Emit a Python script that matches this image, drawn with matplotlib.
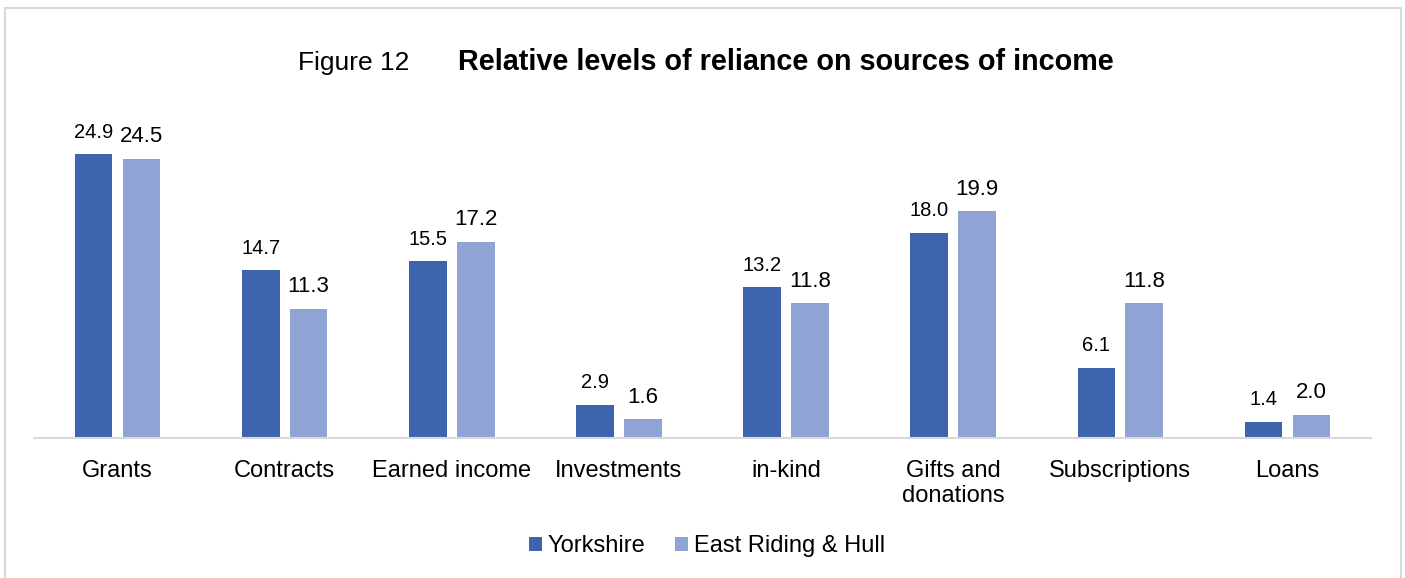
import numpy as np
import matplotlib.pyplot as plt
from matplotlib.patches import Rectangle

# dados
categorias = ['Grants', 'Contracts', 'Earned income', 'Investments', 'in-kind',
              'Gifts and\ndonations', 'Subscriptions', 'Loans']
yorkshire = [24.9, 14.7, 15.5, 2.9, 13.2, 18.0, 6.1, 1.4]
east_riding = [24.5, 11.3, 17.2, 1.6, 11.8, 19.9, 11.8, 2.0]
series = ['Yorkshire', 'East Riding & Hull']

cor_escura = '#3D64AD'
cor_clara = '#8FA4D5'
cinza = '#D9D9D9'

plt.rcParams['font.family'] = ['Liberation Sans', 'DejaVu Sans']

fig = plt.figure(figsize=(14.05, 5.78), dpi=100)
ax = fig.add_axes([34 / 1405, 140.5 / 578, 1337 / 1405, 341.1 / 578])

x = np.arange(len(categorias))
largura = 0.225
desloc = 0.143

b1 = ax.bar(x - desloc, yorkshire, largura, color=cor_escura, label=series[0])
b2 = ax.bar(x + desloc, east_riding, largura, color=cor_clara, label=series[1])

for barras, tam in [(b1, 14.5), (b2, 16)]:
    for b in barras:
        ax.annotate('{:.1f}'.format(b.get_height()),
                    (b.get_x() + b.get_width() / 2, b.get_height()),
                    xytext=(0, 12), textcoords='offset points',
                    ha='center', va='baseline', fontsize=tam, color='black')

ax.set_xlim(-0.5, len(categorias) - 0.5)
ax.set_ylim(0, 30)
ax.set_yticks([])
ax.set_xticks(x)
ax.set_xticklabels(categorias, fontsize=17, linespacing=1.2)
ax.tick_params(axis='x', length=0, pad=16)
for lado in ['top', 'right', 'left']:
    ax.spines[lado].set_visible(False)
ax.spines['bottom'].set_color(cinza)
ax.spines['bottom'].set_linewidth(1.5)

# titulo em duas partes
ybase = 1 - 70 / 578
fig.text(298 / 1405, ybase, 'Figure 12', fontsize=19, va='baseline', ha='left')
fig.text(458 / 1405, ybase, 'Relative levels of reliance on sources of income',
         fontsize=20.7, fontweight='bold', va='baseline', ha='left')

fig.legend(loc='center', bbox_to_anchor=(707 / 1405, 1 - 546 / 578), ncol=2,
           frameon=False, fontsize=17, handlelength=0.54, handleheight=0.54,
           handletextpad=0.25, columnspacing=1.27)

# moldura cinza
fig.patches.append(Rectangle((4.5 / 1405, -0.05), 1396 / 1405, 1.05 - 8.5 / 578,
                             transform=fig.transFigure, fill=False,
                             edgecolor=cinza, linewidth=1.5))

fig.savefig('out.png', dpi=100)
